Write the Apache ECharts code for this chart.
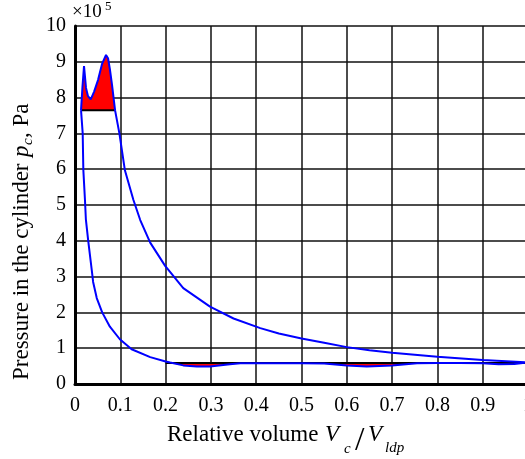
<!DOCTYPE html>
<html>
<head>
<meta charset="utf-8">
<script src="https://cdn.jsdelivr.net/npm/echarts@6/dist/echarts.min.js"></script>
<style>
html,body{margin:0;padding:0;background:#fff;}
#chart{width:525px;height:459px;}
</style>
</head>
<body>
<div id="chart"></div>
<script>
// ---- data (pressure in units of 1e5 Pa) ----
const xTickLabels = ['0','0.1','0.2','0.3','0.4','0.5','0.6','0.7','0.8','0.9','1'];
const yTickLabels = ['0','1','2','3','4','5','6','7','8','9','10'];

// combustion hump (top of diagram)
const combX = [0.0133, 0.0165, 0.0199, 0.0243, 0.0287, 0.0347, 0.042, 0.0508, 0.0597, 0.0685, 0.0729, 0.0773, 0.0818, 0.0884];
const combY = [7.65, 8.30, 8.88, 8.27, 8.04, 7.95, 8.16, 8.49, 8.94, 9.19, 9.10, 8.77, 8.35, 7.65];

// expansion line
const expX = [0.0884, 0.098, 0.11, 0.129, 0.144, 0.166, 0.199, 0.239, 0.298, 0.35, 0.409, 0.45, 0.5, 0.55, 0.6, 0.65, 0.7, 0.8, 0.9, 1.0];
const expY = [7.65, 7.0, 5.98, 5.14, 4.58, 3.95, 3.3, 2.68, 2.16, 1.83, 1.56, 1.41, 1.27, 1.15, 1.03, 0.94, 0.87, 0.76, 0.67, 0.6];

// intake / compression line (from right to left)
const cmpX = [1.0, 0.97, 0.935, 0.9, 0.85, 0.8, 0.755, 0.7, 0.644, 0.6, 0.55, 0.5, 0.45, 0.409, 0.365, 0.342, 0.298, 0.269, 0.239, 0.21, 0.2, 0.166, 0.125, 0.099, 0.077, 0.06, 0.048, 0.04, 0.037, 0.029, 0.024, 0.022, 0.0184, 0.017, 0.0133];
const cmpY = [0.6, 0.56, 0.55, 0.58, 0.59, 0.585, 0.58, 0.52, 0.49, 0.52, 0.575, 0.58, 0.58, 0.58, 0.58, 0.55, 0.49, 0.49, 0.52, 0.6, 0.63, 0.75, 0.97, 1.25, 1.6, 2.0, 2.4, 2.85, 3.18, 4.02, 4.6, 5.14, 5.98, 7.0, 7.65];

// reference levels
const topLevel = 7.65;
const topLevelX = [0.0133, 0.0884];
const bottomLevel = 0.59;
const bottomLevelX = [0.2, 1.0];

// ---- build series data ----
const zip = (xs, ys) => xs.map((x, i) => [x, ys[i]]);
const combData = zip(combX, combY);
const loopData = combData.concat(zip(expX, expY).slice(1), zip(cmpX, cmpY).slice(1));
const bottomAreaData = zip(cmpX, cmpY)
  .filter(p => p[0] >= bottomLevelX[0])
  .map(p => [p[0], Math.min(p[1], bottomLevel)])
  .sort((a, b) => a[0] - b[0]);

const serif = "'Liberation Serif','Times New Roman',serif";
const chart = echarts.init(document.getElementById('chart'), null, {renderer: 'canvas'});

const gridLine = {show: true, lineStyle: {color: '#111', width: 1.5}};

chart.setOption({
  animation: false,
  backgroundColor: '#fff',
  grid: {left: 75, right: -3, top: 26, bottom: 75, containLabel: false, outerBoundsMode: 'none'},
  xAxis: {
    type: 'value', min: 0, max: 1, interval: 0.1,
    axisLine: {show: true, onZero: false, lineStyle: {color: '#000', width: 3}},
    axisTick: {show: false},
    splitLine: gridLine,
    axisLabel: {
      color: '#000', fontFamily: serif, fontSize: 20, margin: 12,
      formatter: v => xTickLabels[Math.round(v * 10)]
    }
  },
  yAxis: {
    type: 'value', min: 0, max: 10, interval: 1,
    axisLine: {show: true, onZero: false, lineStyle: {color: '#000', width: 3}},
    axisTick: {show: false},
    splitLine: gridLine,
    axisLabel: {
      color: '#000', fontFamily: serif, fontSize: 20, margin: 9,
      formatter: v => yTickLabels[Math.round(v)]
    }
  },
  series: [
    {
      type: 'line', data: combData, symbol: 'none', silent: true,
      lineStyle: {width: 0},
      areaStyle: {color: '#ff0000', opacity: 1, origin: topLevel}
    },
    {
      type: 'line', data: bottomAreaData, symbol: 'none', silent: true,
      lineStyle: {width: 0},
      areaStyle: {color: '#ff0000', opacity: 1, origin: bottomLevel}
    },
    {
      type: 'line', data: topLevelX.map(x => [x, topLevel]), symbol: 'none', silent: true,
      lineStyle: {color: '#000', width: 2}
    },
    {
      type: 'line', data: bottomLevelX.map(x => [x, bottomLevel]), symbol: 'none', silent: true,
      lineStyle: {color: '#000', width: 2}
    },
    {
      type: 'line', data: loopData, symbol: 'none', silent: true,
      lineStyle: {color: '#0000ff', width: 2}
    }
  ],
  graphic: [
    // x10^5 multiplier
    {type: 'text', x: 72, y: 12, style: {text: '×10', fontFamily: serif, fontSize: 19, fill: '#000', align: 'left', verticalAlign: 'middle'}},
    {type: 'text', x: 105, y: 7, style: {text: '5', fontFamily: serif, fontSize: 13, fill: '#000', align: 'left', verticalAlign: 'middle'}},
    // x-axis title
    {type: 'text', x: 167, y: 435, style: {text: 'Relative volume', fontFamily: serif, fontSize: 23, fill: '#000', align: 'left', verticalAlign: 'middle'}},
    {type: 'text', x: 325, y: 435, style: {text: 'V', fontFamily: serif, fontStyle: 'italic', fontSize: 23, fill: '#000', align: 'left', verticalAlign: 'middle'}},
    {type: 'text', x: 344, y: 449, style: {text: 'c', fontFamily: serif, fontStyle: 'italic', fontSize: 15, fill: '#000', align: 'left', verticalAlign: 'middle'}},
    {type: 'text', x: 355, y: 441, style: {text: '/', fontFamily: serif, fontSize: 34, fill: '#000', align: 'left', verticalAlign: 'middle'}},
    {type: 'text', x: 368, y: 435, style: {text: 'V', fontFamily: serif, fontStyle: 'italic', fontSize: 23, fill: '#000', align: 'left', verticalAlign: 'middle'}},
    {type: 'text', x: 385, y: 448, style: {text: 'ldp', fontFamily: serif, fontStyle: 'italic', fontSize: 15, fill: '#000', align: 'left', verticalAlign: 'middle'}},
    // y-axis title (rotated)
    {type: 'text', x: 21.5, y: 380, rotation: Math.PI / 2, style: {text: 'Pressure in the cylinder ', fontFamily: serif, fontSize: 23, fill: '#000', align: 'left', verticalAlign: 'middle'}},
    {type: 'text', x: 21.5, y: 157, rotation: Math.PI / 2, style: {text: 'p', fontFamily: serif, fontStyle: 'italic', fontSize: 23, fill: '#000', align: 'left', verticalAlign: 'middle'}},
    {type: 'text', x: 28.5, y: 145, rotation: Math.PI / 2, style: {text: 'c', fontFamily: serif, fontStyle: 'italic', fontSize: 15, fill: '#000', align: 'left', verticalAlign: 'middle'}},
    {type: 'text', x: 21.5, y: 138, rotation: Math.PI / 2, style: {text: ', Pa', fontFamily: serif, fontSize: 23, fill: '#000', align: 'left', verticalAlign: 'middle'}}
  ]
});
</script>
</body>
</html>
